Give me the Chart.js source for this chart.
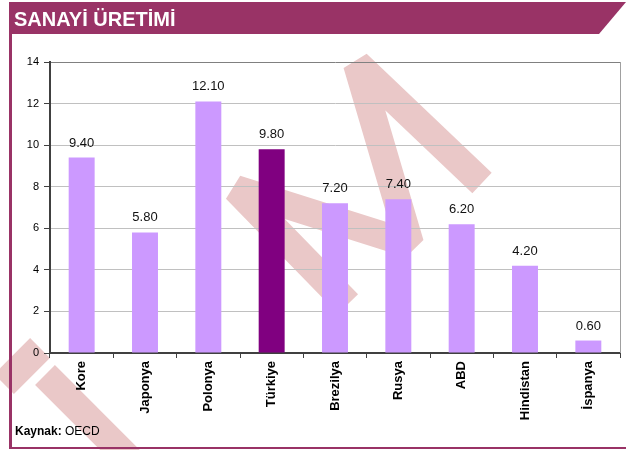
<!DOCTYPE html>
<html>
<head>
<meta charset="utf-8">
<script src="https://cdn.jsdelivr.net/npm/chart.js@4.4.0/dist/chart.umd.min.js"></script>
<style>
  html, body { margin: 0; padding: 0; background: #fff; }
  #wrap { width: 626px; height: 450px; position: relative; }
</style>
</head>
<body>
<div id="wrap"><canvas id="myChart" width="626" height="450"></canvas></div>
<script>
// data
var categories = ["Kore", "Japonya", "Polonya", "Türkiye", "Brezilya", "Rusya", "ABD", "Hindistan", "İspanya"];
var values = [9.4, 5.8, 12.1, 9.8, 7.2, 7.4, 6.2, 4.2, 0.6];
var highlight = "Türkiye";
var yMin = 0, yMax = 14, yStep = 2;

var title = "SANAYİ ÜRETİMİ";
var sourceLabel = "Kaynak:";
var sourceText = "OECD";

var maroon = "#993366";
var barColors = categories.map(function (c) {
  return c === highlight ? "#800080" : "#CC99FF";
});

// pink watermark strokes behind the plot, header and frame on top
var decor = {
  id: "decor",
  beforeDraw: function (chart) {
    var ctx = chart.ctx;
    ctx.save();
    ctx.fillStyle = "#fff";
    ctx.fillRect(0, 0, chart.width, chart.height);
    ctx.strokeStyle = "rgb(234,200,200)";
    ctx.lineWidth = 28;
    ctx.lineJoin = "bevel";
    ctx.lineCap = "butt";
    ctx.beginPath();
    ctx.moveTo(348, 304);
    ctx.lineTo(236, 189);
    ctx.lineTo(410, 244);
    ctx.lineTo(357, 64);
    ctx.lineTo(482, 183);
    ctx.stroke();
    ctx.beginPath();
    ctx.moveTo(40, 348);
    ctx.lineTo(4, 384);
    ctx.stroke();
    ctx.beginPath();
    ctx.moveTo(45, 375);
    ctx.lineTo(170, 500);
    ctx.stroke();
    ctx.restore();
  },
  afterDraw: function (chart) {
    var ctx = chart.ctx;
    var area = chart.chartArea;
    ctx.save();
    // header band
    ctx.fillStyle = maroon;
    ctx.beginPath();
    ctx.moveTo(9, 2);
    ctx.lineTo(626, 2);
    ctx.lineTo(599, 34);
    ctx.lineTo(9, 34);
    ctx.closePath();
    ctx.fill();
    ctx.fillStyle = "#fff";
    ctx.font = "bold 20px 'Liberation Sans', Arial, sans-serif";
    ctx.textBaseline = "alphabetic";
    ctx.textAlign = "left";
    ctx.fillText(title, 14, 26);
    // frame lines
    ctx.fillStyle = maroon;
    ctx.fillRect(9, 34, 3, 415);
    ctx.fillRect(9, 447, 617, 2);
    // right border of plot
    ctx.strokeStyle = "#a0a0a0";
    ctx.lineWidth = 1;
    ctx.beginPath();
    ctx.moveTo(area.right + 0.5, area.top);
    ctx.lineTo(area.right + 0.5, area.bottom);
    ctx.stroke();
    // value labels
    var meta = chart.getDatasetMeta(0);
    ctx.fillStyle = "#111";
    ctx.font = "13px 'Liberation Sans', Arial, sans-serif";
    ctx.textAlign = "center";
    meta.data.forEach(function (bar, i) {
      ctx.fillText(values[i].toFixed(2), bar.x, bar.y - 11);
    });
    // source
    ctx.textAlign = "left";
    ctx.font = "bold 12px 'Liberation Sans', Arial, sans-serif";
    ctx.fillStyle = "#000";
    ctx.fillText(sourceLabel, 15, 435);
    var w = ctx.measureText(sourceLabel + " ").width;
    ctx.font = "12px 'Liberation Sans', Arial, sans-serif";
    ctx.fillText(sourceText, 15 + w, 435);
    ctx.restore();
  }
};

var config = {
  type: "bar",
  data: {
    labels: categories,
    datasets: [
      {
        data: values,
        backgroundColor: barColors,
        borderWidth: 0,
        categoryPercentage: 1,
        barPercentage: 0.41,
      },
    ],
  },
  options: {
    responsive: false,
    animation: false,
    layout: { padding: { left: 0, right: 6, top: 62, bottom: 0 } },
    plugins: {
      legend: { display: false },
      tooltip: { enabled: false },
    },
    scales: {
      x: {
        grid: {
          drawOnChartArea: false,
          drawTicks: true,
          tickLength: 5,
          tickColor: "#404040",
        },
        border: { color: "#404040", width: 2 },
        ticks: {
          autoSkip: false,
          minRotation: 90,
          maxRotation: 90,
          padding: 3,
          color: "#000",
          font: { family: "'Liberation Sans', Arial, sans-serif", size: 13, weight: "bold" },
        },
        afterFit: function (scale) {
          scale.height = 97;
        },
      },
      y: {
        min: yMin,
        max: yMax,
        ticks: {
          stepSize: yStep,
          padding: 5,
          color: "#000",
          font: { family: "'Liberation Sans', Arial, sans-serif", size: 11 },
        },
        grid: {
          color: function (c) {
            return c.tick && c.tick.value === yMax ? "#808080" : "#c0c0c0";
          },
          lineWidth: 1,
          tickLength: 6,
          tickColor: "#404040",
        },
        border: { color: "#404040", width: 2 },
        afterFit: function (scale) {
          scale.width = 50;
        },
      },
    },
  },
  plugins: [decor],
};

var myChart = new Chart(document.getElementById("myChart"), config);
</script>
</body>
</html>
